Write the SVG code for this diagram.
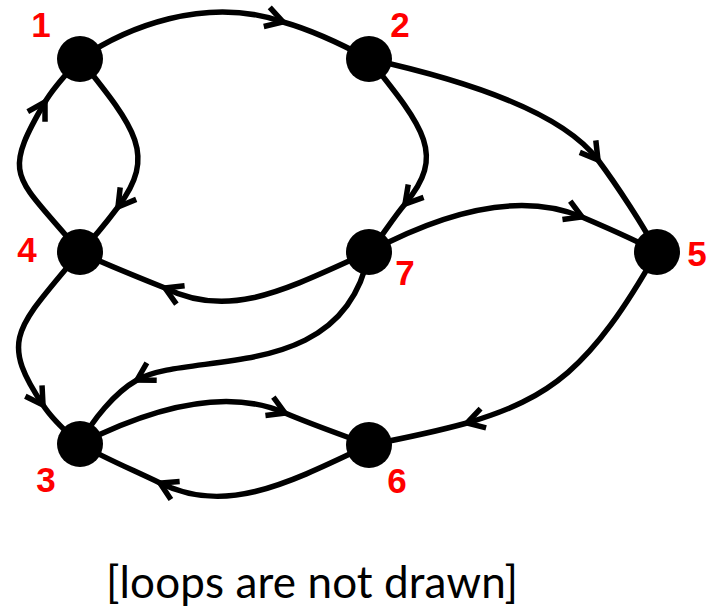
<svg xmlns="http://www.w3.org/2000/svg" width="717" height="610" viewBox="0 0 717 610">
<style>
.edge{fill:none;stroke:#000;stroke-width:5.5;marker-mid:url(#chev)}
.node circle{fill:#000}
.lbl{font-family:"Liberation Sans",Arial,sans-serif;font-weight:bold;font-size:35px;fill:#ff0000;text-anchor:middle}
.cap{font-family:Lato,"Open Sans",sans-serif;font-size:44px;fill:#000}
</style>
<defs>
<marker id="chev" markerUnits="userSpaceOnUse" orient="auto" markerWidth="40" markerHeight="40" refX="0" refY="0" viewBox="-20 -20 40 40" overflow="visible">
<path d="M-17,-10 L0,0 L-17,10" fill="none" stroke="#000" stroke-width="5.5"/>
</marker>
</defs>
<g id="connectors">
<path id="e1-2" class="edge" d="M80,59 C125,28 205,-5 283,22 C315,31 345,46 369,59"/>
<path id="e1-4" class="edge" d="M80,59 C136,129 157,155 118,207 C106,223 92,240 80,252"/>
<path id="e4-1" class="edge" d="M80,252 C16,175 0,179 45,102 C55,85 70,70 80,59"/>
<path id="e2-7" class="edge" d="M369,59 C425,129 446,155 405,204 C392,219.5 381,238 369,252"/>
<path id="e2-5" class="edge" d="M369,59 C469,81 562,112 598,160 C616,184 645,228 657,252"/>
<path id="e7-5" class="edge" d="M369,252 C457,205 527,194 582,217 C610,229 640,242 657,252"/>
<path id="e7-4" class="edge" d="M369,252 C285,290 229,320 165,288 C135,276 100,262 80,252"/>
<path id="e4-3" class="edge" d="M80,252 C16,329 -1,339 43,405 C54,422 70,435 80,444"/>
<path id="e7-3" class="edge" d="M369,252 C345,385 190,350 137,380 C115,392.5 92,420 80,444"/>
<path id="e3-6" class="edge" d="M80,444 C160,403.5 230,389 285,413 C313,425 345,436 369,445"/>
<path id="e6-3" class="edge" d="M369,445 C285,485 225,515 160,483 C133,470 100,456 80,444"/>
<path id="e5-6" class="edge" d="M657,252 C590,370 550,398 467,423 C438,431 400,439 369,445"/>
</g>
<g id="n1" class="node"><circle cx="80" cy="59" r="23"/><text class="lbl" x="41" y="37">1</text></g>
<g id="n2" class="node"><circle cx="369" cy="59" r="23"/><text class="lbl" x="400" y="37">2</text></g>
<g id="n4" class="node"><circle cx="80" cy="252" r="23"/><text class="lbl" x="27" y="262">4</text></g>
<g id="n7" class="node"><circle cx="369" cy="252" r="23"/><text class="lbl" x="405" y="285">7</text></g>
<g id="n5" class="node"><circle cx="657" cy="252" r="23"/><text class="lbl" x="697" y="266">5</text></g>
<g id="n3" class="node"><circle cx="80" cy="444" r="23"/><text class="lbl" x="46" y="492">3</text></g>
<g id="n6" class="node"><circle cx="369" cy="445" r="23"/><text class="lbl" x="397" y="493">6</text></g>
<text class="cap" x="106" y="598" textLength="412" lengthAdjust="spacing">[loops are not drawn]</text>
</svg>
